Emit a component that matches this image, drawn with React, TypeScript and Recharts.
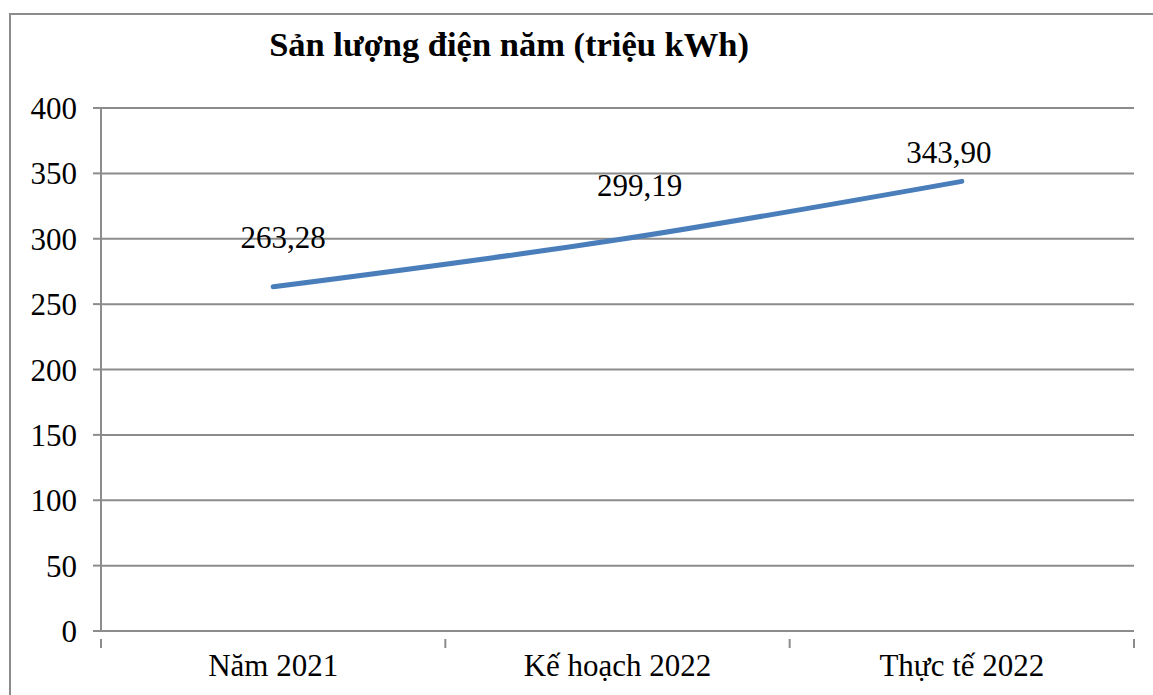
import { useEffect } from 'react';
import { LineChart, Line, XAxis, YAxis, CartesianGrid, LabelList } from 'recharts';

const categories = ['Năm 2021', 'Kế hoạch 2022', 'Thực tế 2022'];
const values = [263.28, 299.19, 343.9];
const yTicks = [0, 50, 100, 150, 200, 250, 300, 350, 400];
// Excel data labels were dragged by hand, so each one gets its own nudge (dx, dy from its point)
const labelNudge = [
    [10, -49],
    [22, -54],
    [-13, -29],
];

const data = categories.map((name, i) => ({ name, value: values[i] }));

const FONT = "'Liberation Serif', 'Times New Roman', serif";
const GRID = '#8c8c8c';

// category label at band centre, tick marks at the band edges (like Excel)
const CatTick = (props: any) => {
    const { x, y, payload, index, visibleTicksCount } = props;
    const off = payload?.offset ?? 0;
    return (
        <g>
            <line x1={x - off} x2={x - off} y1={y} y2={y + 9} stroke={GRID} strokeWidth={2} />
            {index === visibleTicksCount - 1 && (
                <line x1={x + off} x2={x + off} y1={y} y2={y + 9} stroke={GRID} strokeWidth={2} />
            )}
            <text x={x} y={y + 37} textAnchor="middle" fontFamily={FONT} fontSize={31} fill="#000">
                {payload.value}
            </text>
        </g>
    );
};

const ValueLabel = (props: any) => {
    const { x, y, value, index } = props;
    const [dx, dy] = labelNudge[index] || [0, -45];
    return (
        <text
            x={x + dx}
            y={y + dy}
            textAnchor="middle"
            dominantBaseline="central"
            fontFamily={FONT}
            fontSize={31}
            fill="#000"
        >
            {Number(value).toFixed(2).replace('.', ',')}
        </text>
    );
};

export default function App() {
    useEffect(() => {
        document.documentElement.style.overflow = 'hidden';
    }, []);

    return (
        <div style={{ position: 'fixed', left: 0, top: 0, width: 1153, height: 695, overflow: 'hidden', background: '#fff' }}>
            <div
                style={{
                    position: 'absolute',
                    left: 9,
                    top: 13,
                    width: 2000,
                    height: 2000,
                    borderTop: `2px solid ${GRID}`,
                    borderLeft: `2px solid ${GRID}`,
                }}
            />
            <div
                style={{
                    position: 'absolute',
                    left: 309,
                    width: 400,
                    top: 24,
                    whiteSpace: 'nowrap',
                    fontFamily: FONT,
                    fontWeight: 'bold',
                    fontSize: 34.5,
                    lineHeight: '40px',
                    display: 'flex',
                    justifyContent: 'center',
                }}
            >
                Sản lượng điện năm (triệu kWh)
            </div>
            <LineChart
                width={1145}
                height={687}
                data={data}
                margin={{ top: 100, right: 19, left: 0, bottom: 24 }}
                style={{ position: 'absolute', left: 8, top: 8 }}
            >
                <CartesianGrid horizontal vertical={false} stroke={GRID} strokeWidth={2} />
                <XAxis
                    dataKey="name"
                    scale="band"
                    height={40}
                    axisLine={{ stroke: GRID, strokeWidth: 2 }}
                    tickLine={false}
                    tick={<CatTick />}
                    interval={0}
                />
                <YAxis
                    domain={[0, 400]}
                    ticks={yTicks}
                    width={93}
                    axisLine={{ stroke: GRID, strokeWidth: 2 }}
                    tickLine={{ stroke: GRID, strokeWidth: 2 }}
                    tickSize={8}
                    tickMargin={16}
                    tick={{ fontFamily: FONT, fontSize: 31, fill: '#000' }}
                />
                <Line
                    type="monotone"
                    dataKey="value"
                    stroke="#4a7ebb"
                    strokeWidth={5}
                    strokeLinecap="round"
                    dot={false}
                    activeDot={false}
                    isAnimationActive={false}
                >
                    <LabelList dataKey="value" content={<ValueLabel />} />
                </Line>
            </LineChart>
        </div>
    );
}
